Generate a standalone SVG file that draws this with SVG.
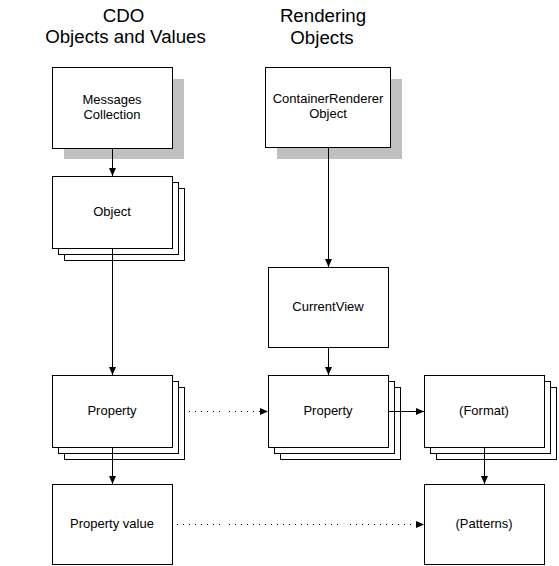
<svg xmlns="http://www.w3.org/2000/svg" width="559" height="566" viewBox="0 0 559 566">
<style>
.box{fill:#fff;stroke:#000;stroke-width:1}
.shadow{fill:#c0c0c0;stroke:none}
.lbl{font-family:"Liberation Sans",Arial,sans-serif;font-size:13px;fill:#000;text-anchor:middle}
.title{font-family:"Liberation Sans",Arial,sans-serif;font-size:18.7px;fill:#000;text-anchor:middle}
.conn{stroke:#000;stroke-width:1;fill:none}
.dot{stroke:#000;stroke-width:1;fill:none;stroke-dasharray:1 5}
</style>
<defs>
<marker id="ah" markerUnits="userSpaceOnUse" markerWidth="9" markerHeight="8" refX="8" refY="3.5" orient="auto">
<path d="M0,0 L8,3.5 L0,7 Z" fill="#000"/>
</marker>
</defs>
<rect width="559" height="566" fill="#fff"/>
<g id="titles">
<text class="title" x="123.5" y="22">CDO</text>
<text class="title" x="125.5" y="43">Objects and Values</text>
<text class="title" x="323" y="22">Rendering</text>
<text class="title" x="322" y="44">Objects</text>
</g>
<g id="messages">
<rect class="shadow" x="64" y="79" width="120" height="80"/>
<rect class="box" x="52.5" y="67.5" width="120" height="81"/>
<text class="lbl" x="112" y="104">Messages</text>
<text class="lbl" x="112" y="119">Collection</text>
</g>
<g id="object">
<rect class="box" x="64.5" y="188.5" width="120" height="72"/>
<rect class="box" x="58.5" y="182.5" width="120" height="72"/>
<rect class="box" x="52.5" y="176.5" width="120" height="72"/>
<text class="lbl" x="112" y="216">Object</text>
</g>
<g id="property-left">
<rect class="box" x="64.5" y="387.5" width="120" height="72"/>
<rect class="box" x="58.5" y="381.5" width="120" height="72"/>
<rect class="box" x="52.5" y="375.5" width="120" height="72"/>
<text class="lbl" x="112" y="415">Property</text>
</g>
<g id="property-value">
<rect class="box" x="52.5" y="484.5" width="120" height="80"/>
<text class="lbl" x="112" y="528">Property value</text>
</g>
<g id="container-renderer">
<rect class="shadow" x="277" y="79" width="125" height="80"/>
<rect class="box" x="265.5" y="67.5" width="125" height="80"/>
<text class="lbl" x="328" y="103">ContainerRenderer</text>
<text class="lbl" x="328" y="118">Object</text>
</g>
<g id="current-view">
<rect class="box" x="268.5" y="267.5" width="120" height="80"/>
<text class="lbl" x="328" y="311">CurrentView</text>
</g>
<g id="property-mid">
<rect class="box" x="280.5" y="387.5" width="120" height="72"/>
<rect class="box" x="274.5" y="381.5" width="120" height="72"/>
<rect class="box" x="268.5" y="375.5" width="120" height="72"/>
<text class="lbl" x="328" y="415">Property</text>
</g>
<g id="format">
<rect class="box" x="436.5" y="387.5" width="120" height="72"/>
<rect class="box" x="430.5" y="381.5" width="120" height="72"/>
<rect class="box" x="424.5" y="375.5" width="120" height="72"/>
<text class="lbl" x="484" y="415">(Format)</text>
</g>
<g id="patterns">
<rect class="box" x="424.5" y="484.5" width="120" height="80"/>
<text class="lbl" x="484" y="528">(Patterns)</text>
</g>
<g id="connectors">
<line class="conn" x1="112.5" y1="149" x2="112.5" y2="176" marker-end="url(#ah)"/>
<line class="conn" x1="112.5" y1="249" x2="112.5" y2="375" marker-end="url(#ah)"/>
<line class="conn" x1="112.5" y1="448" x2="112.5" y2="484" marker-end="url(#ah)"/>
<line class="conn" x1="328.5" y1="148" x2="328.5" y2="267" marker-end="url(#ah)"/>
<line class="conn" x1="328.5" y1="348" x2="328.5" y2="375" marker-end="url(#ah)"/>
<line class="conn" x1="484.5" y1="448" x2="484.5" y2="484" marker-end="url(#ah)"/>
<line class="conn" x1="389" y1="411.5" x2="424" y2="411.5" marker-end="url(#ah)"/>
<line class="dot" x1="189" y1="411.5" x2="221" y2="411.5"/>
<line class="dot" x1="229" y1="411.5" x2="268" y2="411.5" marker-end="url(#ah)"/>
<line class="dot" x1="177" y1="524.5" x2="221" y2="524.5"/>
<line class="dot" x1="229" y1="524.5" x2="343" y2="524.5"/>
<line class="dot" x1="350" y1="524.5" x2="424" y2="524.5" marker-end="url(#ah)"/>
</g>
</svg>
